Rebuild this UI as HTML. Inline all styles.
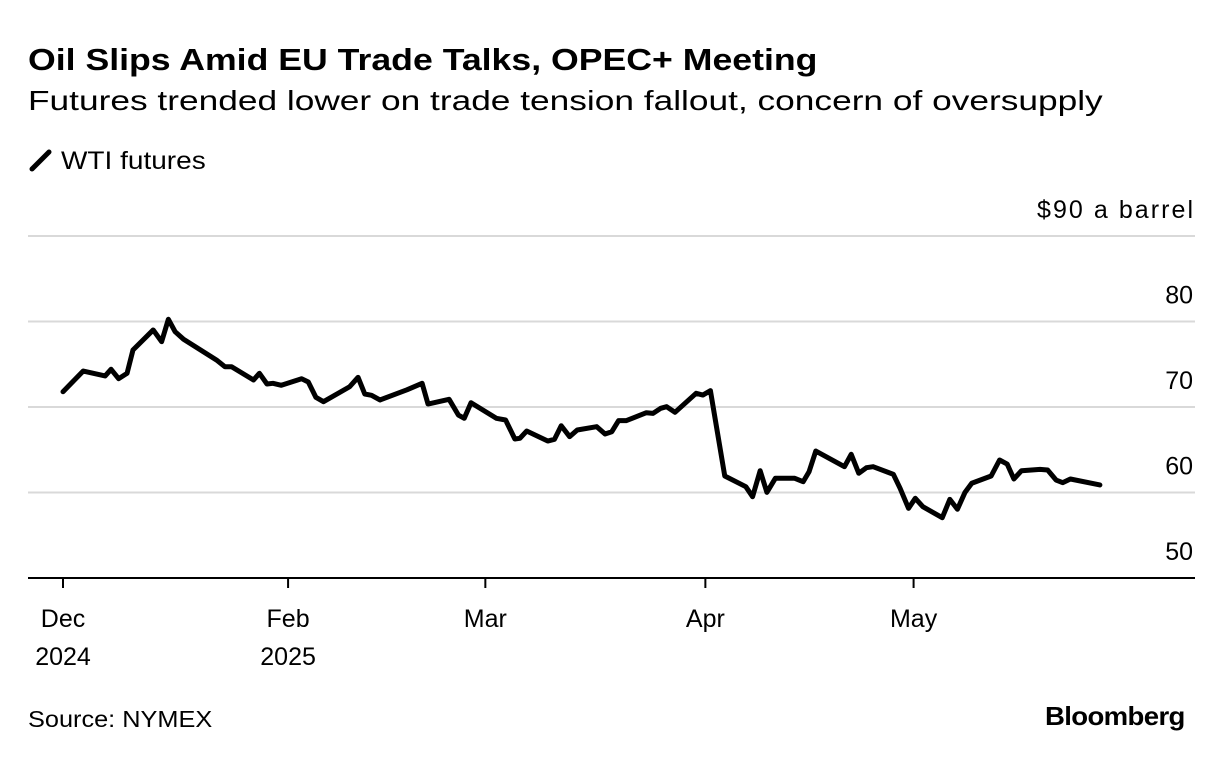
<!DOCTYPE html>
<html><head><meta charset="utf-8"><style>
body{margin:0;background:#fff;font-family:"Liberation Sans",sans-serif;color:#000}
.wrap{position:relative;width:1223px;height:760px;overflow:hidden}
.t{position:absolute;white-space:nowrap;transform-origin:left top}
</style></head><body><div class="wrap">
<div class="t" style="left:28px;top:42px;font-size:31px;font-weight:bold;transform:scaleX(1.15)">Oil Slips Amid EU Trade Talks, OPEC+ Meeting</div>
<div class="t" style="left:28px;top:85px;font-size:28px;transform:scaleX(1.26)">Futures trended lower on trade tension fallout, concern of oversupply</div>
<div class="t" style="left:28px;top:147px;font-size:25px"><svg width="26" height="26" style="vertical-align:-4px"><line x1="4" y1="22" x2="21" y2="5" stroke="#000" stroke-width="5" stroke-linecap="round"/></svg> <span style="display:inline-block;transform:scaleX(1.12);transform-origin:left">WTI futures</span></div>
<div class="t" style="left:28px;top:706px;font-size:23px;transform:scaleX(1.1)">Source: NYMEX</div>
<div class="t" style="left:1045px;top:701px;font-size:26px;font-weight:bold;letter-spacing:-0.6px;transform:scaleX(1.06)">Bloomberg</div>
<svg id="c" width="1223" height="760" style="position:absolute;left:0;top:0"></svg>
</div>
<script>
const xs=[0,2.4,5.0,5.7,6.6,7.6,8.3,10.7,11.7,12.5,13.3,14.3,18.2,19.2,20.0,22.6,23.3,24.2,24.9,25.9,28.3,29.1,30.0,30.9,34.0,35.0,35.8,36.6,37.6,40.8,42.6,43.3,45.8,46.9,47.6,48.4,51.4,52.5,53.6,54.2,55.0,57.5,58.3,59.1,60.1,61.0,63.3,64.3,65.1,65.9,66.8,69.2,70.0,70.9,71.6,72.6,75.1,75.9,76.8,78.5,81.0,81.8,82.7,83.5,84.5,86.8,87.8,88.5,89.3,92.7,93.5,94.4,95.3,96.1,98.5,99.3,100.3,101.1,102.0,104.3,105.2,106.1,107.0,107.8,110.1,111.1,112.0,112.8,113.7,115.9,116.8,117.8,118.6,119.5,123.0];
const prices=[71.79,74.21,73.63,74.41,73.31,73.94,76.67,79.01,77.64,80.26,78.81,77.92,75.50,74.71,74.71,73.16,73.94,72.69,72.77,72.54,73.31,72.92,71.13,70.62,72.37,73.47,71.52,71.37,70.82,72.01,72.77,70.35,70.90,69.06,68.68,70.50,68.68,68.48,66.26,66.34,67.19,66.02,66.22,67.81,66.53,67.31,67.70,66.84,67.11,68.40,68.40,69.33,69.26,69.85,70.04,69.38,71.60,71.40,71.91,61.93,60.68,59.51,62.55,60.02,61.66,61.66,61.26,62.43,64.85,63.02,64.47,62.25,62.90,63.02,62.13,60.49,58.15,59.32,58.34,57.05,59.20,58.04,60.02,61.08,61.93,63.80,63.33,61.58,62.55,62.71,62.63,61.46,61.15,61.58,60.88];
const yTicks=[50,60,70,80,90];
const yLabels=["50","60","70","80","$90 a barrel"];
const xTicks=[0,26.7,50.1,76.2,100.9];
const xMonth=["Dec","Feb","Mar","Apr","May"];
const xYear=["2024","2025","","",""];
const X=v=>63+v*8.43, Y=v=>578-(v-50)*8.55;
const s=document.getElementById('c'),NS='http://www.w3.org/2000/svg';
function mk(t,a){const e=document.createElementNS(NS,t);for(const k in a)e.setAttribute(k,a[k]);s.appendChild(e);return e;}
yTicks.forEach((v,i)=>{
 if(v>50){const g=mk('line',{x1:28,x2:1195,y1:Y(v),y2:Y(v),stroke:'#d9d9d9','stroke-width':2});
 
 }
 const t=mk('text',{x:1193,y:Y(v)-18,'text-anchor':'end','font-size':25,'font-family':'Liberation Sans, sans-serif'});
 if(v===90){t.setAttribute('textLength',156);}
 t.textContent=yLabels[i];
 
 
});
const ax=mk('line',{x1:28,x2:1195,y1:578,y2:578,stroke:'#000','stroke-width':2});


xTicks.forEach((v,i)=>{
 const tk=mk('line',{x1:X(v),x2:X(v),y1:578,y2:588,stroke:'#000','stroke-width':2});
 
 
 const t=mk('text',{x:X(v),y:627,'text-anchor':'middle','font-size':25,'font-family':'Liberation Sans, sans-serif'});
 t.textContent=xMonth[i];
 
 
 if(xYear[i]){const y=mk('text',{x:X(v),y:665,'text-anchor':'middle','font-size':25,'font-family':'Liberation Sans, sans-serif'});
 y.textContent=xYear[i];
 
 }
});
const p=mk('polyline',{points:xs.map((x,i)=>X(x)+','+Y(prices[i])).join(' '),fill:'none',stroke:'#000','stroke-width':5,'stroke-linejoin':'round','stroke-linecap':'round'});


</script></body></html>
